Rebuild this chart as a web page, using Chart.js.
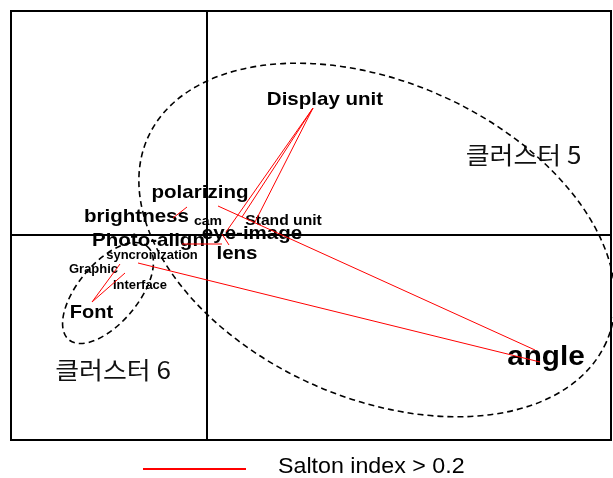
<!DOCTYPE html>
<html>
<head>
<meta charset="utf-8">
<script src="https://cdn.jsdelivr.net/npm/chart.js@4.4.1/dist/chart.umd.min.js"></script>
<style>
    html, body { margin: 0; padding: 0; background: #fff; overflow: hidden; }
    canvas { display: block; }
</style>
</head>
<body>
<canvas id="cMap" width="613" height="478"></canvas>
<script>
// Term positions on the map (x/y in map units, origin at the axis cross)
const words = ['Display unit', 'polarizing', 'brightness', 'cam', 'Stand unit', 'eye-image',
    'Photo-align', 'lens', 'syncronization', 'Graphic', 'Interface', 'Font', 'angle'];
const wordX = [1.18, -0.07, -0.705, 0.01, 0.765, 0.45, -0.585, 0.30, -0.55, -1.135, -0.67, -1.155, 3.39];
const wordY = [1.30, 0.37, 0.13, 0.10, 0.10, -0.04, -0.11, -0.24, -0.24, -0.38, -0.54, -0.83, -1.30];

// Links with Salton index > 0.2: [x1, y1, x2, y2]
const edges = [
    [1.06, 1.27, 0.19, 0.03],
    [1.06, 1.27, 0.35, 0.18],
    [1.06, 1.27, 0.48, 0.13],
    [0.11, 0.29, 3.28, -1.15],
    [-0.69, -0.28, 3.33, -1.27],
    [-0.34, 0.17, -0.20, 0.28],
    [-0.25, -0.09, 0.15, -0.09],
    [0.15, 0.01, 0.22, -0.10],
    [-0.87, -0.29, -1.15, -0.67],
    [-0.82, -0.38, -1.15, -0.67]
];

// Clusters
const clusterNames = ['클러스터 5', '클러스터 6'];
const clusterLabelX = [3.165, -0.94];
const clusterLabelY = [0.71, -1.44];
const clusterCx = [1.70, -0.99];
const clusterCy = [-0.05, -0.58];
const clusterRx = [2.51, 0.61];
const clusterRy = [1.58, 0.30];
const clusterTilt = [24, -50];

const legendLabel = 'Salton index > 0.2';

// font sizes per term (px)
const wordSize = {
    'Display unit': 19, 'polarizing': 19, 'brightness': 19, 'cam': 13, 'Stand unit': 14.5,
    'eye-image': 19, 'Photo-align': 19, 'lens': 19, 'syncronization': 12, 'Graphic': 12,
    'Interface': 12, 'Font': 18.5, 'angle': 27.5
};
const STRETCH = 1.08;
const RED = '#ff0000';

function stretchedText(ctx, txt, x, y, font, align) {
    ctx.save();
    ctx.font = font;
    ctx.textAlign = align || 'center';
    ctx.textBaseline = 'alphabetic';
    ctx.translate(x, y);
    ctx.scale(STRETCH, 1);
    ctx.fillText(txt, 0, 0);
    ctx.restore();
}

const mapDecor = {
    id: 'mapDecor',
    beforeDatasetsDraw(chart) {
        const { ctx, chartArea: a, scales: { x, y } } = chart;
        const ux = x.getPixelForValue(1) - x.getPixelForValue(0);
        const uy = y.getPixelForValue(0) - y.getPixelForValue(1);

        // term labels
        ctx.fillStyle = '#000';
        words.forEach((w, i) => {
            stretchedText(ctx, w, x.getPixelForValue(wordX[i]), y.getPixelForValue(wordY[i]),
                'bold ' + wordSize[w] + 'px "Liberation Sans", Arial, sans-serif');
        });

        // cluster names
        ctx.fillStyle = '#111';
        clusterNames.forEach((n, i) => {
            stretchedText(ctx, n, x.getPixelForValue(clusterLabelX[i]), y.getPixelForValue(clusterLabelY[i]),
                '24px "Noto Sans CJK KR", sans-serif');
        });

        // axes through origin
        ctx.save();
        ctx.strokeStyle = '#000';
        ctx.lineWidth = 2;
        ctx.beginPath();
        ctx.moveTo(x.getPixelForValue(0), a.top);
        ctx.lineTo(x.getPixelForValue(0), a.bottom);
        ctx.moveTo(a.left, y.getPixelForValue(0));
        ctx.lineTo(a.right, y.getPixelForValue(0));
        ctx.stroke();
        ctx.restore();

        // cluster ellipses
        ctx.save();
        ctx.strokeStyle = '#000';
        ctx.lineWidth = 1.6;
        ctx.setLineDash([6, 4]);
        clusterCx.forEach((cx, i) => {
            ctx.beginPath();
            ctx.ellipse(x.getPixelForValue(cx), y.getPixelForValue(clusterCy[i]),
                clusterRx[i] * ux, clusterRy[i] * uy, clusterTilt[i] * Math.PI / 180, 0, Math.PI * 2);
            ctx.stroke();
        });
        ctx.restore();
    },
    afterDraw(chart) {
        const { ctx, chartArea: a } = chart;
        // frame
        ctx.save();
        ctx.strokeStyle = '#000';
        ctx.lineWidth = 2;
        ctx.strokeRect(a.left, a.top, a.right - a.left, a.bottom - a.top);

        // legend
        ctx.strokeStyle = RED;
        ctx.lineWidth = 2;
        ctx.beginPath();
        ctx.moveTo(143, 469);
        ctx.lineTo(246, 469);
        ctx.stroke();
        ctx.fillStyle = '#000';
        stretchedText(ctx, legendLabel, 278, 473, '21.5px "Liberation Sans", Arial, sans-serif', 'left');
        ctx.restore();
    }
};

const datasets = edges.map((e, i) => ({
    label: i === 0 ? legendLabel : '',
    data: [{ x: e[0], y: e[1] }, { x: e[2], y: e[3] }],
    showLine: true,
    borderColor: RED,
    borderWidth: 1,
    pointRadius: 0,
    fill: false
}));

const chMap = new Chart(document.getElementById('cMap').getContext('2d'), {
    type: 'scatter',
    data: { datasets },
    options: {
        responsive: false,
        animation: false,
        layout: { padding: { left: 11, right: 2, top: 11, bottom: 38 } },
        plugins: { legend: { display: false }, tooltip: { enabled: false } },
        scales: {
            x: { type: 'linear', min: -1.96, max: 4.04, display: false },
            y: { type: 'linear', min: -2.05, max: 2.24, display: false }
        }
    },
    plugins: [mapDecor]
});
</script>
</body>
</html>
